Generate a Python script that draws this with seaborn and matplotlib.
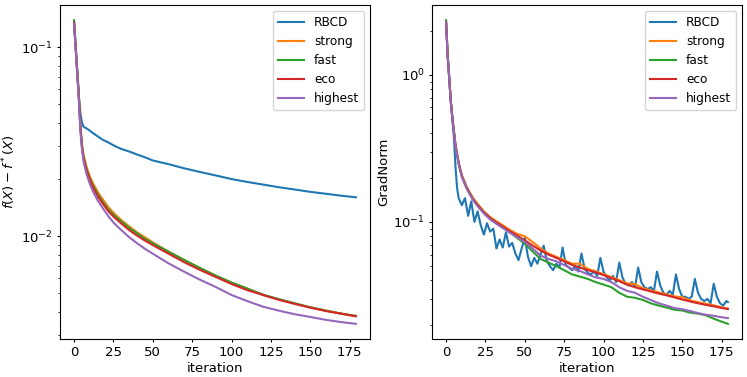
import matplotlib
matplotlib.use("Agg")
import matplotlib.pyplot as plt
import seaborn as sns

# series names and colours (matplotlib default cycle)
labels = ["RBCD", "strong", "fast", "eco", "highest"]
colors = ["#1f77b4", "#ff7f0e", "#2ca02c", "#d62728", "#9467bd"]

# ---- left panel: objective gap f(X) - f*(X) ----
gap_iter = [0, 1, 2, 3, 4, 5, 6, 8, 10, 12, 15, 18, 22, 26, 30, 35, 40, 45, 50,
            60, 70, 80, 90, 100, 110, 120, 130, 140, 150, 160, 170, 179]
gap_rbcd = [0.135, 0.100, 0.075, 0.056, 0.045, 0.040, 0.038, 0.0372, 0.0362, 0.0352,
            0.0338, 0.0325, 0.0313, 0.0300, 0.0290, 0.0281, 0.0271, 0.0262, 0.0252,
            0.0241, 0.0229, 0.0219, 0.0210, 0.0201, 0.0194, 0.0188, 0.0182, 0.0177,
            0.0172, 0.0168, 0.0164, 0.0161]
gap_strong = [0.135, 0.101, 0.075, 0.056, 0.039, 0.031, 0.027, 0.0232, 0.0208, 0.0191,
              0.0172, 0.0158, 0.0142, 0.0131, 0.0122, 0.0113, 0.0105, 0.0099, 0.0093,
              0.0083, 0.0075, 0.0068, 0.0062, 0.0057, 0.0053, 0.0049, 0.00465, 0.00442,
              0.00422, 0.00405, 0.0039, 0.00379]
gap_fast = [0.139, 0.102, 0.075, 0.056, 0.038, 0.030, 0.0262, 0.0225, 0.0202, 0.0186,
            0.0167, 0.0153, 0.0138, 0.0128, 0.0120, 0.0111, 0.0104, 0.0097, 0.0092,
            0.0083, 0.0075, 0.0068, 0.0062, 0.0057, 0.0053, 0.00492, 0.00466, 0.00443,
            0.00422, 0.00405, 0.0039, 0.0038]
gap_eco = [0.135, 0.100, 0.074, 0.055, 0.038, 0.030, 0.026, 0.0222, 0.0199, 0.0182,
           0.0163, 0.0150, 0.0135, 0.0125, 0.0117, 0.0108, 0.0101, 0.0095, 0.0090,
           0.0081, 0.0073, 0.00665, 0.0061, 0.0056, 0.0052, 0.0049, 0.00462, 0.0044,
           0.0042, 0.00403, 0.0039, 0.00378]
gap_highest = [0.133, 0.098, 0.072, 0.053, 0.036, 0.029, 0.0250, 0.0212, 0.0190, 0.0173,
               0.0155, 0.0142, 0.0127, 0.0116, 0.0108, 0.0099, 0.0092, 0.0086, 0.0081,
               0.0072, 0.0065, 0.0059, 0.0054, 0.0049, 0.00455, 0.00425, 0.00405,
               0.00388, 0.00375, 0.00362, 0.00352, 0.00345]

# ---- right panel: gradient norm ----
grad_iter = [0, 1, 2, 3, 4, 5, 6, 8, 10, 13, 17, 20, 24, 28, 32, 36, 40, 45, 50, 55,
             60, 65, 70, 75, 80, 85, 90, 95, 100, 105, 110, 115, 120, 125, 130, 135,
             140, 145, 150, 155, 160, 165, 170, 175, 179]
grad_strong = [2.27, 1.36, 0.96, 0.67, 0.515, 0.415, 0.335, 0.255, 0.208, 0.174, 0.146,
               0.133, 0.118, 0.108, 0.101, 0.095, 0.089, 0.083, 0.080, 0.073, 0.066,
               0.061, 0.058, 0.055, 0.052, 0.052, 0.048, 0.0462, 0.0442, 0.0422, 0.0402,
               0.0382, 0.0378, 0.0355, 0.0343, 0.0332, 0.0322, 0.0312, 0.0308, 0.0293,
               0.0285, 0.0278, 0.0271, 0.0263, 0.0258]
grad_fast = [2.35, 1.36, 0.95, 0.66, 0.51, 0.41, 0.33, 0.25, 0.205, 0.171, 0.143,
             0.130, 0.116, 0.106, 0.098, 0.092, 0.086, 0.078, 0.071, 0.063, 0.056,
             0.053, 0.050, 0.047, 0.044, 0.0425, 0.041, 0.039, 0.0375, 0.036, 0.033,
             0.031, 0.0305, 0.0295, 0.028, 0.027, 0.0262, 0.0253, 0.025, 0.0242,
             0.0238, 0.0232, 0.022, 0.021, 0.0203]
grad_eco = [2.27, 1.35, 0.95, 0.66, 0.51, 0.41, 0.33, 0.25, 0.205, 0.171, 0.143,
            0.130, 0.116, 0.106, 0.099, 0.093, 0.087, 0.081, 0.075, 0.069, 0.064,
            0.060, 0.057, 0.054, 0.051, 0.049, 0.047, 0.0455, 0.0435, 0.0415, 0.0395,
            0.0375, 0.036, 0.0348, 0.0337, 0.0326, 0.0317, 0.0307, 0.0297, 0.0288,
            0.028, 0.0273, 0.0267, 0.026, 0.0256]
grad_highest = [2.27, 1.34, 0.94, 0.65, 0.505, 0.405, 0.325, 0.247, 0.202, 0.169, 0.141,
                0.128, 0.114, 0.104, 0.097, 0.091, 0.085, 0.079, 0.073, 0.066, 0.059,
                0.056, 0.054, 0.051, 0.048, 0.0465, 0.044, 0.042, 0.041, 0.039, 0.036,
                0.034, 0.033, 0.031, 0.0295, 0.028, 0.027, 0.026, 0.0255, 0.0248,
                0.024, 0.0234, 0.023, 0.0225, 0.0222]

rbcd_grad_iter = [0, 1, 2, 3, 4, 5, 6, 7, 8] + list(range(10, 180, 2)) + [179]
rbcd_grad = [2.27, 1.35, 0.95, 0.66, 0.50, 0.37, 0.235, 0.17, 0.145,
             0.130, 0.145, 0.110, 0.138, 0.100, 0.118, 0.095, 0.082, 0.098, 0.086,
             0.090, 0.066, 0.076, 0.067, 0.085, 0.068, 0.072, 0.061, 0.055, 0.066,
             0.078, 0.058, 0.050, 0.057, 0.052, 0.060, 0.069, 0.054, 0.050, 0.047,
             0.052, 0.049, 0.067, 0.051, 0.049, 0.047, 0.050, 0.046, 0.061, 0.048,
             0.045, 0.044, 0.046, 0.043, 0.057, 0.046, 0.042, 0.040, 0.043, 0.039,
             0.053, 0.042, 0.038, 0.037, 0.039, 0.036, 0.049, 0.039, 0.036, 0.035,
             0.036, 0.034, 0.046, 0.037, 0.033, 0.032, 0.034, 0.032, 0.044, 0.035,
             0.031, 0.031, 0.030, 0.031, 0.041, 0.033, 0.030, 0.029, 0.030, 0.028,
             0.038, 0.031, 0.028, 0.027, 0.029,
             0.0285]

plt.rcParams["font.size"] = 9.5
plt.rcParams["xtick.major.size"] = 2.5
plt.rcParams["ytick.major.size"] = 2.5
plt.rcParams["ytick.minor.size"] = 1.5
plt.rcParams["xtick.major.pad"] = 2.5
plt.rcParams["ytick.major.pad"] = 2.5
plt.rcParams["axes.labelpad"] = 2.5

fig, axes = plt.subplots(1, 2, figsize=(7.47, 3.77), dpi=100)
fig.subplots_adjust(left=0.0803, right=0.9933, top=0.9867, bottom=0.1008, wspace=0.2)

#left panel
ax = axes[0]
for name, col, ys in zip(labels, colors, [gap_rbcd, gap_strong, gap_fast, gap_eco, gap_highest]):
    sns.lineplot(x=gap_iter, y=ys, ax=ax, color=col, label=name, linewidth=1.5)
ax.set_yscale("log")
ax.set_xlabel("iteration")
ax.set_ylabel(r"$f(X) - f^*(X)$")

#right panel
ax = axes[1]
right_x = [rbcd_grad_iter, grad_iter, grad_iter, grad_iter, grad_iter]
right_y = [rbcd_grad, grad_strong, grad_fast, grad_eco, grad_highest]
for name, col, xs, ys in zip(labels, colors, right_x, right_y):
    sns.lineplot(x=xs, y=ys, ax=ax, color=col, label=name, linewidth=1.5)
ax.set_yscale("log")
ax.set_xlabel("iteration")
ax.set_ylabel("GradNorm")

for ax in axes:
    ax.set_xticks([0, 25, 50, 75, 100, 125, 150, 175])
    ax.legend(loc="upper right", fontsize=8.7, handlelength=2.2)

plt.savefig("out.png", dpi=100)
